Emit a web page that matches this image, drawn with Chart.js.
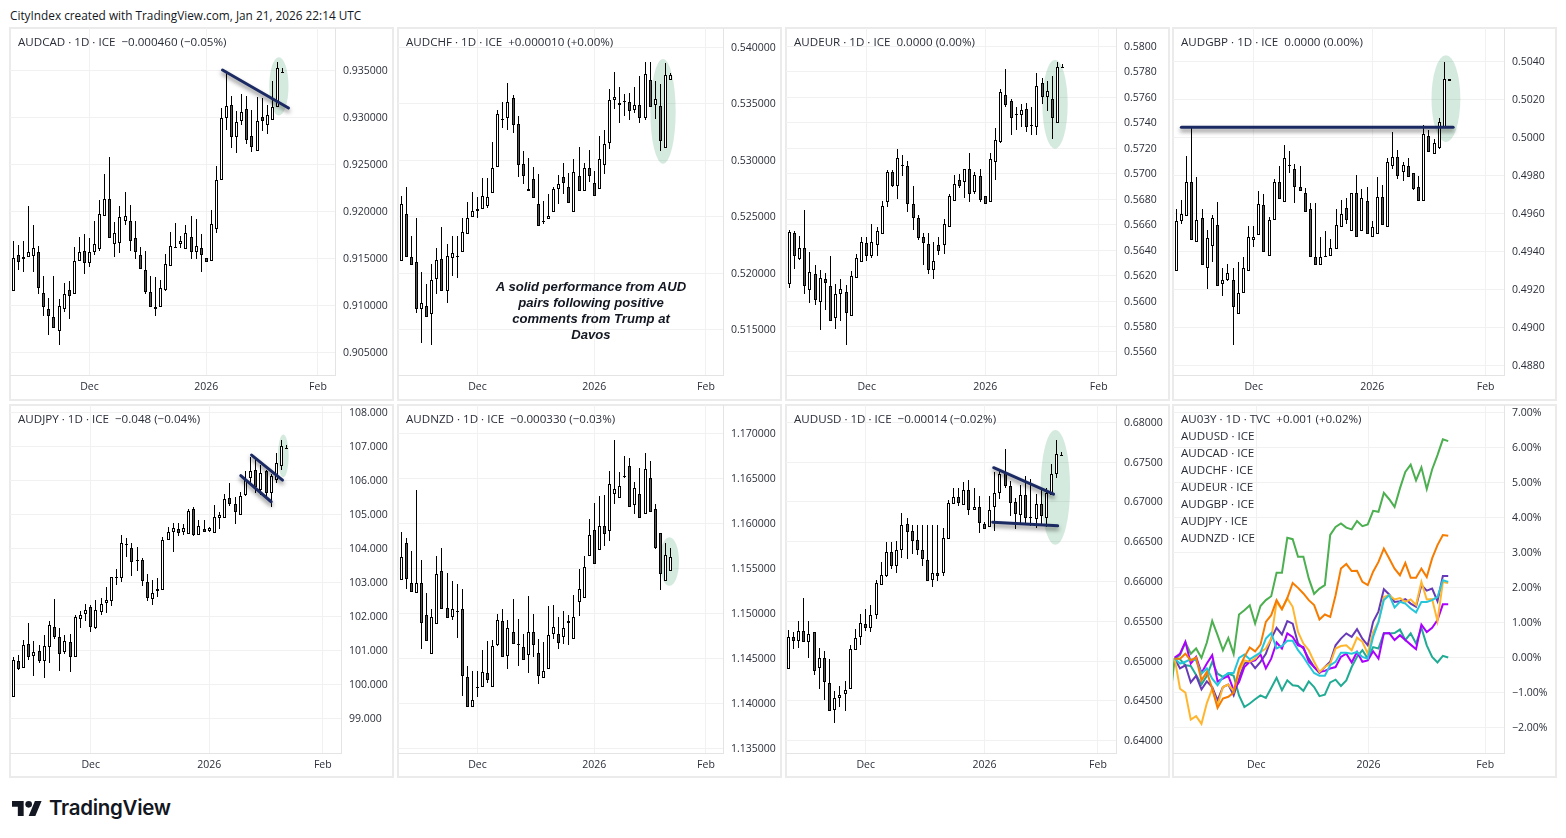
<!DOCTYPE html>
<html>
<head>
<meta charset="utf-8">
<title>AUD pairs</title>
<script src="https://cdn.jsdelivr.net/npm/chart.js@4"></script>
<style>
  html, body { margin: 0; background: #fff; width: 1566px; height: 838px; overflow: hidden; }
  body { font-family: "Open Sans", sans-serif; color: #131722; position: relative; }
  .panel { position: absolute; outline: 2px solid #ebebeb; outline-offset: -1px; }
  .panel canvas { position: absolute; left: 0; top: 0; }
  .legend { position: absolute; left: 8px; top: 5px; font-size: 11.6px; line-height: 17px; white-space: pre; color: #2a2e39; }
  #stamp { position: absolute; left: 10px; top: 7px; font-size: 11.8px; line-height: 16px; color: #131722; white-space: pre; }
  #note { position: absolute; left: 461px; top: 279px; width: 260px; text-align: center; font: italic bold 13.1px/16px "Liberation Sans", sans-serif; color: #131722; }
  #logo { position: absolute; left: 12px; top: 796px; height: 24px; display: flex; align-items: center; }
  #logo span { font: 600 20.5px/24px Inter, sans-serif; margin-left: 7px; color: #131722; letter-spacing: -0.3px; }
</style>
</head>
<body>
<div id="stamp">CityIndex created with TradingView.com, Jan 21, 2026 22:14 UTC</div>
<div id="root"></div>
<div id="note">A solid performance from AUD<br>pairs following positive<br>comments from Trump at<br>Davos</div>
<div id="logo">
  <svg width="30" height="15" viewBox="0 7 36 18"><path fill="#131722" d="M14 25H7V14H0V7h14v18zM28 25h-8l7.5-18h8L28 25z"/><circle fill="#131722" cx="20" cy="11" r="4"/></svg>
  <span>TradingView</span>
</div>
<script>
// AUDCAD
const audcadOpen = [.91156,.91542,.91496,.91521,.91528,.91574,.91138,.90968,.90883,.90734,.90964,.91170,.91120,.91478,.91585,.91457,.91574,.91599,.91947,.92134,.91659,.91670,.91900,.91904,.91723,.91539,.91379,.91149,.90964,.90989,.91166,.91425,.91627,.91656,.91603,.91734,.91574,.91610,.91510,.91478,.91815,.92337,.92989,.93127,.92787,.92964,.93085,.92798,.92638,.92999,.92922,.92968,.93106,.93486];
const audcadHigh = [.91681,.91645,.91681,.92053,.91851,.91638,.91319,.91085,.91319,.91071,.91237,.91266,.91627,.91734,.91759,.91716,.91900,.92117,.92397,.92574,.91883,.92053,.92205,.92064,.91900,.91620,.91581,.91319,.91308,.91273,.91546,.91780,.91876,.91744,.91851,.91947,.91918,.91759,.91510,.92014,.92478,.93099,.93471,.93230,.93064,.93248,.93230,.93081,.93212,.93205,.93134,.93383,.93585,.93525];
const audcadLow = [.91156,.91379,.91354,.91521,.91354,.91124,.90893,.90688,.90759,.90581,.90929,.90858,.91120,.91478,.91337,.91415,.91539,.91581,.91947,.91716,.91521,.91556,.91858,.91581,.91496,.91386,.91124,.90989,.90893,.90989,.91159,.91425,.91627,.91610,.91603,.91496,.91496,.91354,.91468,.91478,.91769,.92337,.92869,.92673,.92620,.92922,.92720,.92631,.92638,.92858,.92826,.92968,.93106,.93478];
const audcadClose = [.91510,.91468,.91521,.91571,.91617,.91191,.90989,.90893,.90759,.91000,.91120,.91106,.91478,.91574,.91457,.91574,.91659,.91978,.92134,.91716,.91776,.91936,.91947,.91691,.91564,.91386,.91149,.90989,.90989,.91191,.91447,.91638,.91627,.91691,.91766,.91574,.91638,.91539,.91468,.91872,.92337,.92989,.93117,.92787,.92946,.93053,.92762,.92681,.92957,.92964,.93021,.93106,.93521,.93486];
const audcadTicks = [.905,.91,.915,.92,.925,.93,.935];

// AUDCHF
const audchfOpen = [.52113,.52521,.52149,.52105,.51682,.51715,.51638,.51951,.52131,.51848,.52134,.52158,.52193,.52350,.52503,.52556,.52571,.52598,.52707,.52937,.53365,.53371,.53548,.53318,.52972,.52730,.52834,.52618,.52460,.52477,.52547,.52751,.52857,.52760,.52547,.52866,.52733,.52928,.52804,.52751,.52958,.53155,.53530,.53486,.53524,.53513,.53448,.53486,.53377,.53708,.53486,.53477,.53105,.53708];
const audchfHigh = [.52689,.52760,.52335,.52488,.52010,.51904,.52087,.52229,.52406,.52258,.52335,.52335,.52488,.52630,.52719,.52674,.52848,.52843,.53158,.53448,.53516,.53684,.53581,.53389,.53079,.53020,.52937,.52878,.52636,.52701,.52760,.52872,.52975,.52887,.53011,.53114,.52975,.53091,.52902,.53212,.53271,.53628,.53781,.53646,.53589,.53595,.53646,.53749,.53870,.53870,.53699,.53675,.53858,.53772];
const audchfLow = [.52113,.52149,.52078,.51647,.51387,.51618,.51367,.51818,.51848,.51739,.51980,.51957,.52193,.52350,.52503,.52488,.52571,.52577,.52707,.52937,.53285,.53271,.53241,.52857,.52792,.52730,.52671,.52423,.52438,.52477,.52547,.52615,.52701,.52627,.52547,.52733,.52733,.52807,.52689,.52751,.52881,.53102,.53457,.53330,.53389,.53353,.53418,.53330,.53359,.53468,.53368,.53085,.53105,.53708];
const audchfClose = [.52615,.52149,.52078,.51682,.51742,.51618,.51945,.52122,.51848,.52158,.52181,.52158,.52370,.52488,.52556,.52574,.52689,.52680,.52928,.53406,.53365,.53513,.53315,.52961,.52866,.52751,.52671,.52423,.52460,.52512,.52751,.52789,.52804,.52627,.52893,.52733,.52928,.52866,.52689,.53008,.53141,.53530,.53557,.53507,.53524,.53433,.53486,.53371,.53761,.53468,.53539,.53167,.53752,.53755];
const audchfTicks = [.515,.52,.525,.53,.535,.54];

// AUDEUR
const audeurOpen = [.56137,.56533,.56331,.56420,.56090,.56216,.55996,.56169,.56121,.55870,.56059,.56074,.55886,.56184,.56310,.56459,.56357,.56441,.56530,.56774,.57017,.56900,.57065,.57057,.56758,.56651,.56499,.56446,.56242,.56441,.56436,.56585,.56789,.56947,.56931,.57033,.56855,.56981,.56826,.56774,.57088,.57251,.57615,.57568,.57468,.57463,.57505,.57379,.57363,.57709,.57604,.57583,.57395,.57827];
const audeurHigh = [.56554,.56551,.56514,.56713,.56383,.56279,.56247,.56218,.56352,.56137,.56174,.56127,.56237,.56368,.56499,.56499,.56603,.56585,.56789,.57025,.57031,.57193,.57148,.57096,.56900,.56677,.56538,.56533,.56467,.56499,.56643,.56839,.56991,.56996,.57033,.57162,.57017,.57038,.56826,.57159,.57358,.57665,.57822,.57586,.57520,.57547,.57555,.57523,.57790,.57751,.57725,.57764,.57877,.57861];
const audeurLow = [.56100,.56252,.56323,.56053,.55983,.55970,.55773,.55930,.55846,.55781,.55846,.55655,.55886,.56184,.56310,.56318,.56336,.56355,.56530,.56737,.56892,.56800,.56983,.56698,.56559,.56480,.56284,.56210,.56174,.56362,.56370,.56585,.56789,.56886,.56808,.56774,.56839,.56774,.56761,.56774,.56952,.57240,.57523,.57306,.57345,.57363,.57327,.57306,.57306,.57547,.57489,.57274,.57395,.57827];
const audeurClose = [.56541,.56350,.56420,.56121,.56231,.56009,.56184,.56142,.55846,.56059,.56098,.55909,.56200,.56336,.56467,.56357,.56467,.56546,.56750,.57017,.56907,.57120,.57065,.56758,.56653,.56491,.56459,.56245,.56315,.56389,.56601,.56821,.56918,.56907,.57033,.56844,.56986,.56795,.56761,.57117,.57266,.57641,.57541,.57434,.57471,.57502,.57363,.57379,.57686,.57604,.57646,.57434,.57840,.57840];
const audeurTicks = [.556,.558,.56,.562,.564,.566,.568,.57,.572,.574,.576,.578,.58];

// AUDGBP
const audgbpOpen = [.49298,.49561,.49587,.49768,.49452,.49578,.49311,.49430,.49541,.49228,.49249,.49251,.49071,.49182,.49298,.49462,.49487,.49642,.49376,.49568,.49768,.49658,.49858,.49837,.49742,.49710,.49621,.49372,.49330,.49376,.49378,.49410,.49531,.49631,.49510,.49710,.49510,.49668,.49478,.49489,.49689,.49529,.49848,.49900,.49821,.49848,.49811,.49740,.49668,.50011,.49911,.49944,.50050,.50296];
const audgbpHigh = [.49622,.49670,.49902,.50050,.49791,.49622,.49513,.49592,.49659,.49311,.49332,.49311,.49342,.49372,.49533,.49536,.49721,.49702,.49580,.49782,.49848,.49960,.49927,.49860,.49848,.49733,.49654,.49654,.49478,.49510,.49464,.49622,.49670,.49680,.49710,.49802,.49731,.49742,.49562,.49791,.49750,.49890,.50029,.49937,.49869,.49890,.49811,.49800,.50068,.50041,.49992,.50103,.50400,.50307];
const audgbpLow = [.49298,.49545,.49587,.49460,.49452,.49330,.49202,.49346,.49219,.49165,.49244,.48906,.49071,.49182,.49298,.49423,.49487,.49399,.49376,.49568,.49677,.49658,.49812,.49654,.49721,.49610,.49372,.49330,.49330,.49376,.49378,.49410,.49531,.49545,.49510,.49478,.49510,.49489,.49478,.49489,.49541,.49529,.49835,.49781,.49772,.49790,.49724,.49668,.49668,.49922,.49911,.49939,.50050,.50296];
const audgbpClose = [.49562,.49599,.49768,.49460,.49568,.49330,.49473,.49578,.49219,.49251,.49288,.49108,.49182,.49311,.49478,.49478,.49650,.49399,.49564,.49768,.49677,.49890,.49848,.49742,.49721,.49610,.49372,.49330,.49372,.49376,.49420,.49540,.49599,.49568,.49710,.49478,.49680,.49489,.49529,.49689,.49541,.49869,.49900,.49800,.49858,.49790,.49730,.49668,.50017,.49922,.49969,.50080,.50310,.50307];
const audgbpTicks = [.488,.49,.492,.494,.496,.498,.5,.502,.504];

// AUDJPY
const audjpyOpen = [99.635,100.697,100.49,101.198,100.835,100.992,100.697,101.1,101.7,101.405,100.962,101.257,100.815,101.936,102.073,102.29,101.661,102.132,102.408,102.457,103.155,103.135,104.119,104.02,103.647,103.647,103.027,102.526,102.762,102.791,104.256,104.473,104.561,104.473,104.414,105.151,104.384,104.561,104.512,104.443,104.905,104.886,105.476,105.299,104.974,105.574,106.085,106.302,105.722,106.282,105.643,106.017,106.439,106.961];
const audjpyHigh = [100.805,100.874,101.316,101.818,101.287,101.149,101.444,101.857,102.506,101.67,101.464,101.493,102.034,102.152,102.359,102.329,102.496,102.545,102.86,103.165,103.391,104.394,104.315,104.148,104.05,103.706,103.263,103.067,103.135,104.335,104.62,104.748,104.748,104.709,105.151,105.21,104.837,104.837,104.64,105.279,105.082,105.594,105.928,105.525,105.653,106.282,106.685,106.607,106.459,106.312,106.184,106.803,107.197,107.049];
const audjpyLow = [99.635,100.412,100.49,100.707,100.245,100.628,100.186,100.638,101.346,100.392,100.903,100.363,100.815,101.661,101.857,101.542,101.641,102.054,102.103,102.3,102.919,103.017,103.755,103.194,103.342,102.899,102.457,102.329,102.575,102.791,104.256,103.903,104.374,104.394,104.414,104.374,104.384,104.492,104.483,104.443,104.571,104.886,105.259,104.728,104.974,105.554,105.869,105.623,105.574,105.495,105.23,105.918,106.312,106.951];
const audjpyClose = [100.726,100.461,101.169,100.805,100.962,100.687,101.139,101.759,101.395,100.903,101.287,100.815,101.975,102.054,102.201,101.69,102.201,102.378,102.496,103.155,103.155,104.148,104.119,103.607,103.647,103.037,102.555,102.703,102.821,104.247,104.473,104.591,104.443,104.591,105.092,104.404,104.65,104.492,104.591,104.935,104.974,105.446,105.299,105.063,105.535,106.036,106.272,105.82,106.213,105.623,106.125,106.508,107.01,106.961];
const audjpyTicks = [99,100,101,102,103,104,105,106,107,108];

// AUDNZD
const audnzdOpen = [1.1538,1.15784,1.15339,1.15236,1.15347,1.14991,1.14557,1.14891,1.1548,1.15069,1.14969,1.15021,1.1505,1.14301,1.13968,1.1419,1.1419,1.14346,1.1419,1.14657,1.14924,1.14535,1.14802,1.14668,1.14635,1.14546,1.14802,1.14568,1.1429,1.1439,1.1478,1.1478,1.14746,1.14924,1.14724,1.15136,1.1518,1.15647,1.15925,1.15703,1.1597,1.15914,1.16326,1.16281,1.16515,1.16637,1.16203,1.16326,1.16103,1.16503,1.16159,1.15892,1.15369,1.1548];
const audnzdHigh = [1.15907,1.15847,1.15695,1.16374,1.15595,1.15225,1.1505,1.1564,1.15725,1.15454,1.15362,1.15328,1.15273,1.14416,1.14361,1.14361,1.14594,1.14694,1.14713,1.15002,1.15058,1.14928,1.15161,1.14939,1.1478,1.15195,1.15002,1.14724,1.14687,1.15084,1.15095,1.14965,1.15028,1.14984,1.15213,1.15495,1.1564,1.16047,1.16225,1.16311,1.16318,1.16585,1.1693,1.1657,1.16752,1.16726,1.16459,1.16615,1.16781,1.16696,1.16218,1.15892,1.15781,1.15725];
const audnzdLow = [1.1538,1.15273,1.15243,1.15236,1.14605,1.14702,1.14557,1.14891,1.15058,1.14958,1.14935,1.14732,1.14087,1.13968,1.13968,1.14075,1.1419,1.14231,1.1419,1.14646,1.14524,1.14383,1.14668,1.1442,1.14491,1.14342,1.1452,1.1422,1.1429,1.1439,1.14724,1.14605,1.14668,1.1465,1.14724,1.14976,1.1518,1.15647,1.15558,1.15703,1.15755,1.15807,1.16222,1.16281,1.16503,1.16181,1.16103,1.16059,1.16103,1.16125,1.15714,1.15269,1.15369,1.1548];
const audnzdClose = [1.15625,1.15391,1.15243,1.15347,1.14902,1.14702,1.14969,1.15447,1.15058,1.14958,1.1505,1.15032,1.14313,1.13968,1.14046,1.1419,1.14357,1.14268,1.14646,1.14935,1.14524,1.14846,1.14668,1.14668,1.14491,1.14802,1.14657,1.14313,1.14368,1.14769,1.14858,1.1468,1.14846,1.14902,1.14969,1.1528,1.15521,1.1587,1.15558,1.1597,1.15881,1.16437,1.16381,1.16414,1.16526,1.16181,1.16392,1.16059,1.16604,1.16133,1.15732,1.15447,1.15658,1.15625];
const audnzdTicks = [1.135,1.14,1.145,1.15,1.155,1.16,1.165,1.17];

// AUDUSD
const audusdOpen = [.64906,.65308,.65258,.65384,.65245,.65363,.64918,.65044,.64729,.6439,.64541,.64591,.6465,.65145,.65308,.65472,.65421,.65585,.65962,.66071,.66365,.66189,.66402,.66717,.66629,.66516,.6639,.66264,.66025,.66113,.66101,.66528,.66968,.67057,.66956,.67145,.66893,.66931,.66717,.66679,.66931,.67107,.67358,.67195,.66994,.66838,.67082,.66805,.6678,.66968,.66792,.67082,.67346,.6759];
const audusdHigh = [.65388,.65367,.65501,.65799,.65509,.65367,.6517,.65124,.65023,.6462,.64683,.64755,.65207,.654,.65589,.6566,.65711,.66017,.66239,.66491,.66491,.66507,.66855,.66792,.66709,.66704,.66704,.66704,.66704,.66704,.66667,.67019,.6717,.6717,.67245,.6727,.6717,.67069,.66742,.67073,.67379,.6742,.67665,.67262,.67044,.67212,.67325,.67283,.67094,.6717,.6717,.67472,.67778,.67623];
const audusdLow = [.64906,.65149,.6517,.65245,.65044,.6483,.6465,.64511,.64377,.64226,.64423,.64373,.6465,.65145,.65207,.65384,.65367,.65535,.65962,.66059,.66151,.66101,.66298,.66277,.6634,.66331,.66189,.66012,.65933,.66012,.66063,.66528,.66968,.66952,.66956,.66838,.66893,.66612,.66654,.66679,.66637,.67031,.67178,.66822,.66654,.66717,.66717,.667,.66675,.66717,.66679,.67082,.67296,.67581];
const audusdClose = [.65308,.65258,.65384,.65245,.65346,.6488,.65044,.64742,.64377,.64541,.64578,.64641,.65157,.65295,.65484,.65421,.65585,.65975,.66088,.66377,.66201,.66402,.66704,.66616,.66503,.6639,.66277,.66012,.66101,.66063,.66541,.66981,.67057,.66981,.67145,.66893,.66931,.6673,.66654,.66893,.67107,.67354,.67195,.66981,.66843,.67086,.66792,.66805,.66968,.66818,.67107,.67346,.67597,.6759];
const audusdTicks = [.64,.645,.65,.655,.66,.665,.67,.675,.68];

// Comparison panel, percent change
const compareJpy = [-1.36,-.03,.07,.43,.11,.26,-.01,.43,1.05,.64,.21,.56,.10,1.23,1.35,1.49,.97,1.47,1.64,1.75,2.42,2.42,3.42,3.38,2.88,2.88,2.26,1.82,1.97,2.07,3.50,3.73,3.83,3.71,3.66,3.90,3.75,3.80,4.19,4.16,4.70,4.52,4.30,4.83,5.30,5.51,5.06,5.43,4.81,5.37,5.78,6.23,6.18];
const compareUsd = [-.03,-.03,.11,-.08,0,-.65,-.41,-.89,-1.44,-1.17,-1.12,-1.0,-.31,.02,.29,.18,.37,1.02,1.21,1.64,1.38,1.70,2.13,1.99,1.83,1.64,1.50,1.09,1.23,1.16,1.78,2.54,2.67,2.47,2.48,2.16,2.07,2.45,2.73,3.11,2.83,2.54,2.35,2.70,2.28,2.28,2.54,2.30,2.83,3.21,3.50,3.48];
const compareCad = [-.03,-.31,-.22,-.71,-.52,-.91,-.68,-.84,-1.22,-.84,-.77,-1.08,-.60,-.17,-.10,-.30,-.12,.11,.54,.85,.66,1.04,.97,.40,.26,-.03,-.27,-.44,-.27,-.12,.35,.54,.69,.59,.81,.54,.35,1.02,1.32,1.95,1.80,1.59,1.61,1.67,1.54,1.45,2.07,1.91,1.97,1.61,2.33,2.33];
const compareGbp = [0,.11,.45,-.17,.02,-.44,-.17,.07,-.68,-.60,-.52,-.93,-.70,-.27,-.12,-.08,.09,-.31,-.03,.43,.26,.69,.59,.35,.30,-.12,-.27,-.41,-.38,-.31,-.27,.02,.11,-.14,.16,-.12,-.08,.18,-.03,.69,.70,.50,.64,.50,.37,.24,.94,.73,.85,1.07,1.52,1.52];
const compareChf = [-.03,-.89,-1.0,-1.77,-1.67,-1.89,-1.30,-.89,-1.36,-.84,-.77,-.96,-.41,-.08,-.12,-.03,.16,.26,.54,1.59,1.38,1.69,1.45,.73,.40,.21,-.12,-.41,-.27,-.17,.26,.33,.35,.21,.57,.45,.11,.73,1.02,1.73,1.78,1.66,1.70,1.59,1.66,1.50,2.16,1.66,1.67,1.04,2.16,2.13];
const compareEur = [-.03,-.17,-.12,-.05,-.08,-.46,-.31,-.60,-.79,-.55,-.44,-.44,-.01,.09,-.05,.05,.14,.54,.70,.26,.33,.48,.48,.21,.02,-.22,-.44,-.52,-.52,-.22,-.12,.14,.14,.11,.16,.02,-.03,.59,1.02,1.64,1.78,1.43,1.59,1.54,1.40,1.29,1.59,1.59,1.64,1.73,2.21,2.16];
const compareNzd = [0,-.05,-.22,-.24,-.50,-.77,-.52,-.12,-.46,-.55,-.46,-.52,-1.08,-1.41,-1.31,-1.19,-1.08,-1.15,-.87,-.58,-.93,-.65,-.79,-.81,-.95,-.68,-.84,-1.10,-1.06,-.71,-.63,-.81,-.65,-.27,.02,.21,-.03,.30,.26,.70,.69,.70,.80,.50,.69,.40,.85,.35,.02,-.14,.05,0];
const compareTicks = [-2,-1,0,1,2,3,4,5,6,7];
const compareNames = ["AUDUSD · ICE","AUDCAD · ICE","AUDCHF · ICE","AUDEUR · ICE","AUDGBP · ICE","AUDJPY · ICE","AUDNZD · ICE"];

const timeLabels = ["Dec","2026","Feb"];
const candleTimeTicks = [15,38,60];
const compareTimeTicks = [15.2,36.15,57.9];

const GRID = "#f1f1f1", AXIS = "#e4e4e4", LABEL = "#2a2e39";
const TICK_FONT = { family: '"Open Sans", sans-serif', size: 10.5 };

// snap bars to whole pixels, the reference candles are crisp
const snapBars = {
  id: "snapBars",
  afterDatasetsUpdate(chart) {
    chart.data.datasets.forEach((ds, i) => {
      if (ds.type !== "bar") return;
      chart.getDatasetMeta(i).data.forEach(el => {
        el.x = Math.floor(el.x) + 0.5;
        el.y = Math.round(el.y);
        el.base = Math.round(el.base);
        if (el.base - el.y < 1) el.base = el.y + 1;
      });
    });
  }
};

// green ellipse and navy trendlines, in chart values
const marks = {
  id: "marks",
  beforeDatasetsDraw(chart, args, opts) {
    if (!opts.ellipse) return;
    const { ctx, scales: { x, y } } = chart;
    const [x1, x2, y1, y2] = opts.ellipse;
    const px1 = x.getPixelForValue(x1), px2 = x.getPixelForValue(x2);
    const py1 = y.getPixelForValue(y1), py2 = y.getPixelForValue(y2);
    ctx.save();
    ctx.fillStyle = "rgba(46,150,90,0.2)";
    ctx.beginPath();
    ctx.ellipse((px1 + px2) / 2, (py1 + py2) / 2, (px2 - px1) / 2, (py2 - py1) / 2, 0, 0, Math.PI * 2);
    ctx.fill();
    ctx.restore();
  },
  afterDatasetsDraw(chart, args, opts) {
    if (!opts.lines) return;
    const { ctx, scales: { x, y } } = chart;
    ctx.save();
    ctx.strokeStyle = "#1b2a63";
    ctx.lineWidth = 3;
    ctx.lineCap = "round";
    ctx.shadowColor = "rgba(0,0,0,0.5)";
    ctx.shadowBlur = 4;
    ctx.shadowOffsetY = 3;
    opts.lines.forEach(([x1, y1, x2, y2]) => {
      ctx.beginPath();
      ctx.moveTo(x.getPixelForValue(x1), y.getPixelForValue(y1));
      ctx.lineTo(x.getPixelForValue(x2), y.getPixelForValue(y2));
      ctx.stroke();
    });
    ctx.restore();
  }
};

function candleSets(open, high, low, close) {
  const wick = open.map((_, i) => ({ x: i, y: [low[i], high[i]] }));
  const body = open.map((v, i) => ({ x: i, y: [v, close[i]] }));
  return [
    { type: "bar", data: body, barThickness: 3, grouped: false, order: 1, inflateAmount: 0,
      backgroundColor: open.map((v, i) => close[i] < v ? "#555" : "#fff"),
      borderColor: "#000", borderWidth: 1, borderSkipped: false },
    { type: "bar", data: wick, barThickness: 1, grouped: false, order: 2, inflateAmount: 0,
      backgroundColor: "#000", borderWidth: 0 }
  ];
}

function lineSet(values, color, order) {
  const shift = values.length - 52; // a longer series starts left of the first bar
  return { type: "line", data: values.map((v, i) => ({ x: i - shift, y: v })), borderColor: color,
    borderWidth: 2, pointRadius: 0, tension: 0, order: order };
}

function addPanel(p) {
  const root = document.getElementById("root");
  const box = document.createElement("div");
  box.className = "panel";
  box.style.cssText = `left:${p.left}px;top:${p.top}px;width:${p.width}px;height:${p.height}px`;
  const cv = document.createElement("canvas");
  cv.width = p.width; cv.height = p.height;
  box.appendChild(cv);
  const leg = document.createElement("div");
  leg.className = "legend";
  leg.textContent = p.legend;
  box.appendChild(leg);
  root.appendChild(box);

  const fitY = s => { s.width = p.width - p.plotW; s.paddingTop = s.paddingBottom = 0; };
  const fitX = s => { s.height = p.height - p.plotH; s.paddingLeft = s.paddingRight = 0; };

  new Chart(cv, {
    data: { datasets: p.datasets },
    plugins: [snapBars, marks],
    options: {
      responsive: false,
      animation: false,
      devicePixelRatio: 1,
      layout: { padding: 0 },
      events: [],
      plugins: {
        legend: { display: false },
        tooltip: { enabled: false },
        marks: { ellipse: p.ellipse, lines: p.lines }
      },
      scales: {
        x: {
          type: "linear", min: p.xMin, max: p.xMax, offset: false,
          afterBuildTicks: s => { s.ticks = p.timeTicks.map(v => ({ value: v })); },
          afterFit: fitX,
          grid: { color: GRID, drawTicks: false, offset: false },
          border: { color: AXIS },
          ticks: {
            autoSkip: false, maxRotation: 0, padding: 6, color: LABEL, font: TICK_FONT,
            callback: v => timeLabels[p.timeTicks.indexOf(v)]
          }
        },
        y: {
          type: "linear", position: "right", min: p.yMin, max: p.yMax,
          afterBuildTicks: s => { s.ticks = p.ticks.map(v => ({ value: v })); },
          afterFit: fitY,
          grid: { color: GRID, drawTicks: false },
          border: { color: AXIS },
          ticks: { padding: 8, labelOffset: 0.5, color: LABEL, font: TICK_FONT, autoSkip: false, callback: p.format }
        }
      }
    }
  });
}

const decimals = n => v => v.toFixed(n);

addPanel({ legend: "AUDCAD · 1D · ICE  −0.000460 (−0.05%)", left: 10, top: 28, width: 383, height: 372, plotW: 325, plotH: 347,
  xMin: -0.66, xMax: 63.36, yMin: .90262, yMax: .9395, ticks: audcadTicks, timeTicks: candleTimeTicks, format: decimals(6),
  datasets: candleSets(audcadOpen, audcadHigh, audcadLow, audcadClose),
  ellipse: [50.4, 54.2, .93638, .93021], lines: [[41.2, .93503, 54.2, .93099]] });

addPanel({ legend: "AUDCHF · 1D · ICE  +0.000010 (+0.00%)", left: 398, top: 28, width: 383, height: 372, plotW: 325, plotH: 347,
  xMin: -0.66, xMax: 63.36, yMin: .51101, yMax: .54171, ticks: audchfTicks, timeTicks: candleTimeTicks, format: decimals(6),
  datasets: candleSets(audchfOpen, audchfHigh, audchfLow, audchfClose),
  ellipse: [49.05, 54.04, .53896, .5297] });

addPanel({ legend: "AUDEUR · 1D · ICE  0.0000 (0.00%)", left: 786, top: 28, width: 383, height: 372, plotW: 330, plotH: 347,
  xMin: -0.65, xMax: 63.35, yMin: .55419, yMax: .58144, ticks: audeurTicks, timeTicks: candleTimeTicks, format: decimals(4),
  datasets: candleSets(audeurOpen, audeurHigh, audeurLow, audeurClose),
  ellipse: [49.07, 53.98, .57895, .57196] });

addPanel({ legend: "AUDGBP · 1D · ICE  0.0000 (0.00%)", left: 1173, top: 28, width: 383, height: 372, plotW: 331, plotH: 347,
  xMin: -0.65, xMax: 63.57, yMin: .48748, yMax: .50578, ticks: audgbpTicks, timeTicks: candleTimeTicks, format: decimals(4),
  datasets: candleSets(audgbpOpen, audgbpHigh, audgbpLow, audgbpClose),
  ellipse: [49.5, 55.1, .50434, .49976], lines: [[0.97, .50054, 53.7, .50054]] });

addPanel({ legend: "AUDJPY · 1D · ICE  −0.048 (−0.04%)", left: 10, top: 405, width: 383, height: 372, plotW: 331, plotH: 348,
  xMin: -0.65, xMax: 63.54, yMin: 97.973, yMax: 108.229, ticks: audjpyTicks, timeTicks: candleTimeTicks, format: decimals(3),
  datasets: candleSets(audjpyOpen, audjpyHigh, audjpyLow, audjpyClose),
  ellipse: [51.3, 53.4, 107.36, 106.1], lines: [[44.1, 106.145, 50, 105.378], [46.2, 106.754, 52.2, 106.017]] });

addPanel({ legend: "AUDNZD · 1D · ICE  −0.000330 (−0.03%)", left: 398, top: 405, width: 383, height: 372, plotW: 325, plotH: 348,
  xMin: -0.66, xMax: 63.36, yMin: 1.13453, yMax: 1.17319, ticks: audnzdTicks, timeTicks: candleTimeTicks, format: decimals(6),
  datasets: candleSets(audnzdOpen, audnzdHigh, audnzdLow, audnzdClose),
  ellipse: [50.9, 54.7, 1.15851, 1.1531] });

addPanel({ legend: "AUDUSD · 1D · ICE  −0.00014 (−0.02%)", left: 786, top: 405, width: 383, height: 372, plotW: 330, plotH: 348,
  xMin: -0.45, xMax: 63.5, yMin: .63845, yMax: .68218, ticks: audusdTicks, timeTicks: candleTimeTicks, format: decimals(5),
  datasets: candleSets(audusdOpen, audusdHigh, audusdLow, audusdClose),
  ellipse: [48.9, 54.6, .67904, .66461], lines: [[39.8, .6743, 51.4, .67098], [39.6, .66746, 52.2, .667]] });

addPanel({ legend: "AU03Y · 1D · TVC  +0.001 (+0.02%)\n" + compareNames.join("\n"), left: 1173, top: 405, width: 383, height: 372, plotW: 331, plotH: 348,
  xMin: -0.31, xMax: 61.4, yMin: -2.724, yMax: 7.21, ticks: compareTicks, timeTicks: compareTimeTicks,
  format: v => (v < 0 ? "−" + (-v).toFixed(2) : v.toFixed(2)) + "%",
  datasets: [
    lineSet(compareJpy, "#4caf50", 7),
    lineSet(compareNzd, "#22ab94", 6),
    lineSet(compareCad, "#673ab7", 5),
    lineSet(compareGbp, "#aa00ff", 4),
    lineSet(compareChf, "#ffb62e", 3),
    lineSet(compareEur, "#26c6da", 2),
    lineSet(compareUsd, "#f57c00", 1)
  ] });
</script>
</body>
</html>
